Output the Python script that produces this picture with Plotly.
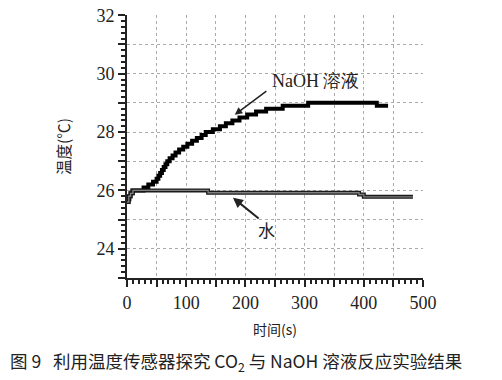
import plotly.graph_objects as go

# NaOH solution temperature (step data)
naoh_t = [0, 2, 4, 6, 9, 28, 36, 44, 50, 53, 56, 59, 62, 65, 68, 72, 77, 82, 88, 95,
          102, 110, 118, 126, 133, 145, 157, 167, 178, 190, 203, 218, 235, 263, 306, 422, 441]
naoh_T = [25.6, 25.7, 25.8, 25.9, 26.0, 26.1, 26.2, 26.3, 26.4, 26.5, 26.6, 26.7, 26.8, 26.9,
          27.0, 27.1, 27.2, 27.3, 27.4, 27.5, 27.6, 27.7, 27.8, 27.9, 28.0, 28.1, 28.2, 28.3,
          28.4, 28.5, 28.6, 28.7, 28.8, 28.9, 29.0, 28.9, 28.9]

# Water temperature
water_t = [0, 3, 6, 10, 137, 392, 400, 483]
water_T = [25.6, 25.8, 25.9, 26.0, 25.92, 25.86, 25.78, 25.78]

x_ticks = [0, 100, 200, 300, 400, 500]
y_ticks = [24, 26, 28, 30, 32]

serif = "Liberation Serif"
cjk = "Noto Sans CJK SC"

fig = go.Figure()
fig.add_trace(go.Scatter(x=naoh_t, y=naoh_T, mode="lines", line=dict(color="black", width=4, shape="hv"),
                         showlegend=False, hoverinfo="skip"))
fig.add_trace(go.Scatter(x=water_t, y=water_T, mode="lines", line=dict(color="#1a1a1a", width=4, shape="hv"),
                         showlegend=False, hoverinfo="skip"))
fig.add_trace(go.Scatter(x=water_t, y=water_T, mode="lines", line=dict(color="#808080", width=1.3, shape="hv"),
                         showlegend=False, hoverinfo="skip"))

y_all = list(range(23, 33))
fig.update_layout(
    width=502, height=380,
    margin=dict(l=127, r=79, t=15, b=102, autoexpand=False),
    paper_bgcolor="white", plot_bgcolor="white",
    font=dict(family=serif, color="#222", size=18),
    xaxis=dict(range=[0, 500], tickmode="array", tickvals=list(range(0, 501, 50)),
               ticktext=[str(v) if v in x_ticks else "" for v in range(0, 501, 50)],
               showgrid=True, gridcolor="#aaaaaa", griddash="dot", gridwidth=1,
               showline=True, linecolor="#222", linewidth=2, ticks="outside", ticklen=7,
               tickwidth=2, tickcolor="#222", zeroline=False, automargin=False,
               ticklabeloverflow="allow",
               minor=dict(dtick=10, ticks="outside", ticklen=4, tickwidth=1.5, tickcolor="#222", showgrid=False),
               tickfont=dict(family=serif, size=18),
               title=dict(text="时间(s)", font=dict(family=cjk, size=14), standoff=14)),
    yaxis=dict(range=[23, 32.01], tickmode="array", tickvals=y_all,
               ticktext=[str(v) if v in y_ticks else "" for v in y_all],
               showgrid=True, gridcolor="#aaaaaa", griddash="dot", gridwidth=1,
               showline=True, linecolor="#222", linewidth=2, ticks="outside", ticklen=7,
               tickwidth=2, tickcolor="#222", zeroline=False, automargin=False,
               ticklabeloverflow="allow",
               minor=dict(dtick=0.2, ticks="outside", ticklen=4, tickwidth=1.5, tickcolor="#222", showgrid=False),
               tickfont=dict(family=serif, size=18),
               title=dict(text="温度(℃)", font=dict(family=cjk, size=15.5), standoff=22)),
)

fig.add_annotation(x=319, y=29.75, xref="x", yref="y", text="NaOH 溶液", showarrow=False,
                   font=dict(family=serif, size=18, color="#222"))
fig.add_annotation(x=182, y=28.59, ax=238, ay=29.44, xref="x", yref="y", axref="x", ayref="y",
                   text="", showarrow=True, arrowhead=2, arrowsize=1, arrowwidth=1.5, arrowcolor="#222")
fig.add_annotation(x=236, y=24.66, xref="x", yref="y", text="水", showarrow=False,
                   font=dict(family=cjk, size=17, color="#222"))
fig.add_annotation(x=179, y=25.75, ax=225, ay=25.0, xref="x", yref="y", axref="x", ayref="y",
                   text="", showarrow=True, arrowhead=2, arrowsize=1, arrowwidth=2, arrowcolor="#222")
fig.add_annotation(x=0, y=0, xref="paper", yref="paper", xanchor="left", yanchor="middle",
                   xshift=-119, yshift=-84,
                   text="图 9&nbsp;&nbsp;&nbsp;利用温度传感器探究 CO<sub>2</sub> 与 NaOH 溶液反应实验结果",
                   showarrow=False, font=dict(family=cjk, size=17.5, color="#222"))

fig.write_html("out.html", config={"displayModeBar": False},
               post_script="document.body.style.margin='0';")
